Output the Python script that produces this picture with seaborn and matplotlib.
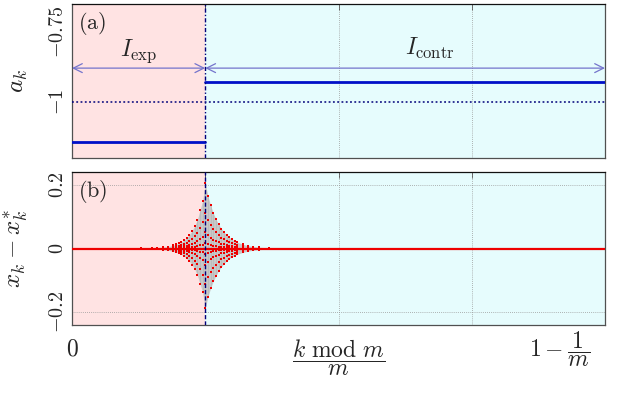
import numpy as np
import pandas as pd
import matplotlib
matplotlib.use("Agg")
import matplotlib.pyplot as plt
import seaborn as sns

# ---------------- data ----------------
boundary = 0.25            # switch point between I_exp and I_contr
a_exp = -1.143             # a_k on I_exp
a_contr = -0.929           # a_k on I_contr
a_ref = -1.0               # dotted reference level
arrow_y = -0.879           # height of the interval arrows

spike_dx = [0.0, 0.005, 0.01, 0.015, 0.02, 0.025, 0.03, 0.035, 0.04, 0.045,
            0.05, 0.055, 0.06, 0.07, 0.08, 0.09, 0.10, 0.12]
env_right = [0.205, 0.165, 0.136, 0.112, 0.093, 0.076, 0.063, 0.052, 0.043, 0.035,
             0.029, 0.024, 0.020, 0.0135, 0.009, 0.006, 0.004, 0.002]
env_left = [0.205, 0.15, 0.12, 0.09, 0.07, 0.055, 0.043, 0.034, 0.026, 0.020,
            0.016, 0.013, 0.010, 0.006, 0.004, 0.002, 0.001, 0.0005]
layer_frac = [1.0, 0.55, 0.25, 0.08, -0.08, -0.25, -0.55, -0.92]

ytick_top = [-1.0, -0.75]
ytick_top_labels = [r"$-1$", r"$-0.75$"]
ytick_bot = [-0.2, 0.0, 0.2]
ytick_bot_labels = [r"$-0.2$", r"$0$", r"$0.2$"]

# ---------------- style ----------------
sns.set_theme(style="white")
plt.rcParams["mathtext.fontset"] = "cm"
plt.rcParams["font.family"] = ["DejaVu Serif"]

pink = "#ffe3e3"
cyan = "#e6fcfd"
navy = "#00007a"
blue = "#0010c8"
red = "#ee0000"
spine_c = "#505050"

fig = plt.figure(figsize=(6.2, 3.95), dpi=100)
ax1 = fig.add_axes([72 / 620, 1 - 158 / 395, 533 / 620, 154 / 395])
ax2 = fig.add_axes([72 / 620, 1 - 325 / 395, 533 / 620, 153 / 395])

for ax in (ax1, ax2):
    ax.set_xlim(0, 1)
    ax.axvspan(0, boundary, color=pink, zorder=0, lw=0)
    ax.axvspan(boundary, 1, color=cyan, zorder=0, lw=0)
    for gx in (0.5, 0.75):
        ax.axvline(gx, color="#9a9a9a", lw=0.6, ls=(0, (1, 1.5)), zorder=1)
    for s in ax.spines.values():
        s.set_color(spine_c)
        s.set_linewidth(0.9)
    ax.spines["top"].set_color("#111111")
    ax.tick_params(axis="both", direction="in", length=4, width=0.7, color=spine_c,
                   top=True, right=False, labelsize=14.5)
    ax.set_xticks([0, 0.25, 0.5, 0.75, 1.0])

# ---------------- panel (a) ----------------
seg = pd.DataFrame({
    "x": [0.0, boundary, boundary, 1.0],
    "a": [a_exp, a_exp, a_contr, a_contr],
    "seg": [0, 0, 1, 1],
})
sns.lineplot(data=seg, x="x", y="a", units="seg", estimator=None, color=blue,
             lw=2.0, ax=ax1, legend=False, zorder=4)
ax1.axhline(a_ref, color=navy, lw=1.1, ls=(0, (1.2, 1.6)), zorder=3)
ax1.axvline(boundary, color=navy, lw=1.0, ls=(0, (3, 1.5, 1, 1.5)), zorder=5)
ax1.set_ylim(-1.2, -0.65)
ax1.set_yticks(ytick_top)
ax1.set_yticklabels(ytick_top_labels, rotation=90, va="center")
ax1.set_xticklabels([])
ax1.set_xlabel("")
ax1.set_ylabel(r"$a_k$", fontsize=18, rotation=90)
ax1.yaxis.set_label_coords(-0.078, 0.5)

arrow_kw = dict(arrowstyle="<->", color="#7474cc", lw=0.9, mutation_scale=16,
                shrinkA=0, shrinkB=0)
ax1.annotate("", xy=(0.0, arrow_y), xytext=(boundary, arrow_y), arrowprops=arrow_kw, zorder=6)
ax1.annotate("", xy=(boundary, arrow_y), xytext=(1.0, arrow_y), arrowprops=arrow_kw, zorder=6)
ax1.text(0.125, arrow_y + 0.012, r"$I_{\mathrm{exp}}$", fontsize=17, ha="center", va="bottom")
ax1.text(0.672, arrow_y + 0.025, r"$I_{\mathrm{contr}}$", fontsize=17, ha="center", va="bottom")
ax1.text(0.012, 0.96, r"$(\mathrm{a})$", transform=ax1.transAxes, fontsize=16,
         ha="left", va="top")

# ---------------- panel (b) ----------------
xs_left = [boundary - d for d in spike_dx][::-1]
xs_right = [boundary + d for d in spike_dx]
env_x = xs_left + xs_right[1:]
env_up = np.array(env_left[::-1] + env_right[1:])
ax2.fill_between(env_x, layer_frac[-1] * env_up, layer_frac[0] * env_up,
                 color="#c8c8c8", lw=0, zorder=2)
ax2.vlines(env_x, layer_frac[-1] * env_up, layer_frac[0] * env_up,
           color="#b8b8b8", lw=0.5, zorder=2)

pts = []
for f in layer_frac:
    for xv, e in zip(xs_left, env_left[::-1]):
        pts.append((xv, f * e))
    for xv, e in zip(xs_right, env_right):
        pts.append((xv, f * e))
dots = pd.DataFrame(pts, columns=["x", "y"])

zero = pd.DataFrame({"x": [0.0, 1.0], "y": [0.0, 0.0]})
sns.lineplot(data=zero, x="x", y="y", color=red, lw=1.6, ax=ax2, zorder=4)
sns.scatterplot(data=dots, x="x", y="y", color=red, marker="s", s=4, linewidth=0,
                ax=ax2, zorder=5)
for gy in (-0.2, 0.2):
    ax2.axhline(gy, color="#9a9a9a", lw=0.6, ls=(0, (1, 1.5)), zorder=1)
ax2.axvline(boundary, color=navy, lw=1.0, ls=(0, (3, 1.5)), zorder=6)
ax2.set_ylim(-0.241, 0.241)
ax2.set_yticks(ytick_bot)
ax2.set_yticklabels(ytick_bot_labels, rotation=90, va="center")
ax2.set_xticklabels([r"$0$", "", r"$\dfrac{k\ \mathrm{mod}\ m}{m}$", "", ""], fontsize=17)
ax2.tick_params(axis="x", pad=9)
ax2.set_xlabel("")
ax2.set_ylabel(r"$x_k - x_k^{*}$", fontsize=18, rotation=90)
ax2.yaxis.set_label_coords(-0.078, 0.5)
ax2.text(0.914, -0.03, r"$1-\dfrac{1}{m}$", transform=ax2.transAxes, fontsize=17,
         ha="center", va="top")
ax2.text(0.012, 0.96, r"$(\mathrm{b})$", transform=ax2.transAxes, fontsize=16,
         ha="left", va="top")

fig.savefig("out.png", dpi=100)
